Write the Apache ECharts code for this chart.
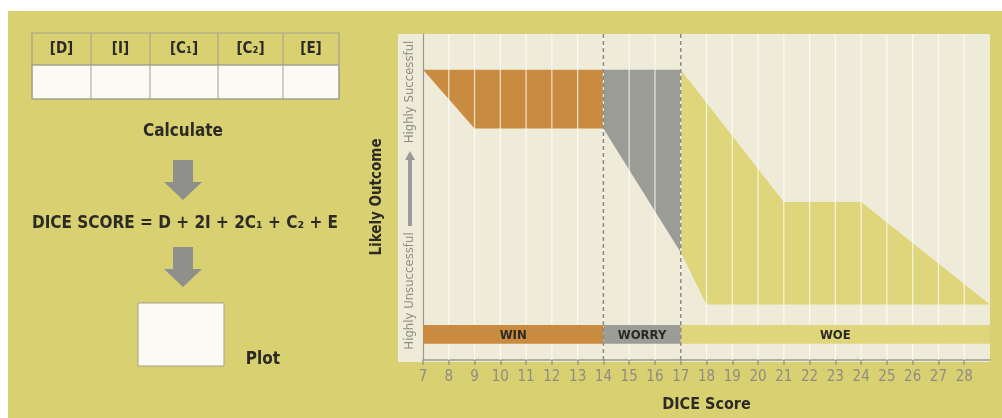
<!DOCTYPE html>
<html><head><meta charset="utf-8">
<script src="https://cdn.jsdelivr.net/npm/echarts@6/dist/echarts.min.js"></script>
<style>html,body{margin:0;padding:0;background:#fff}#c{width:1002px;height:418px}</style>
</head><body><div id="c"></div>
<script>
// ---- data ----
const xMin = 7, xMax = 29;
const xTicks = [7,8,9,10,11,12,13,14,15,16,17,18,19,20,21,22,23,24,25,26,27,28];
const gridXs = [8,9,10,11,12,13,14,15,16,17,18,19,20,21,22,23,24,25,26,27,28];
const tableHeaders = ['[D]','[I]','[C\u2081]','[C\u2082]','[E]'];
const winShape   = [[7,89],[14,89],[14,71],[9,71]];
const worryShape = [[14,89],[17,89],[17,33],[14,71]];
const woeShape   = [[17,89],[21,48.5],[24,48.5],[29,17],[18,17],[17,33]];
const bandNames  = ['WIN','WORRY','WOE'];
const bandStarts = [7,14,17];
const bandEnds   = [14,17,29];
const bandRange  = [5,10.7];
const zoneBoundaries = [14,17];

// ---- style ----
const FONT = '"Liberation Sans Narrow","DejaVu Sans Condensed",sans-serif';
const C_BG = '#d9d071', C_CREAM = '#eeebd9', C_ORANGE = '#c98b40', C_GRAY = '#9c9c97', C_YEL = '#dfd67b';
const C_DARK = '#2b2a24', C_AXIS = '#9a9a90', C_LBL = '#8e8d84';
const shapeColors = [C_ORANGE, C_GRAY, C_YEL];
const shapes = [winShape, worryShape, woeShape];

const chart = echarts.init(document.getElementById('c'), null, {renderer:'canvas'});

function polySeries(pts, color){
  return {type:'custom', z:2, data:[0], silent:true,
    renderItem:(p,api)=>({type:'polygon', shape:{points:pts.map(q=>api.coord(q))}, style:{fill:color}})};
}

const colX = [32,91,150,218,283,339];
const graphics = [
  {type:'rect', z:-10, shape:{x:8,y:11,width:994,height:407}, style:{fill:C_BG}},
  {type:'rect', z:-9, shape:{x:398,y:34,width:592,height:328}, style:{fill:C_CREAM}},
  {type:'rect', z:-5, shape:{x:32,y:65,width:307,height:34}, style:{fill:'#fbfaf5', stroke:'#a3a18d', lineWidth:1}},
  {type:'rect', z:-5, shape:{x:32,y:33,width:307,height:66}, style:{fill:'none', stroke:'#a3a18d', lineWidth:1.2}},
  {type:'rect', z:-5, shape:{x:138,y:303,width:86,height:63}, style:{fill:'#fbfaf5', stroke:'#a3a18d', lineWidth:1}},
  {type:'text', x:183, y:132, style:{text:'Calculate', font:'bold 17px '+FONT, fill:C_DARK, align:'center', verticalAlign:'middle'}},
  {type:'text', x:185, y:224, style:{text:'DICE SCORE = D + 2I + 2C\u2081 + C\u2082 + E', font:'bold 17px '+FONT, fill:C_DARK, align:'center', verticalAlign:'middle'}},
  {type:'text', x:263, y:360, style:{text:'Plot', font:'bold 17px '+FONT, fill:C_DARK, align:'center', verticalAlign:'middle'}},
  {type:'polygon', shape:{points:[[173,160],[193,160],[193,182],[202,182],[183,200],[164,182],[173,182]]}, style:{fill:'#8f8f8c'}},
  {type:'polygon', shape:{points:[[173,247],[193,247],[193,269],[202,269],[183,287],[164,269],[173,269]]}, style:{fill:'#8f8f8c'}},
  {type:'text', x:410, y:291, rotation:Math.PI/2, style:{text:'Highly Unsuccessful', font:'13px '+FONT, fill:C_LBL, align:'center', verticalAlign:'middle'}},
  {type:'text', x:410, y:92, rotation:Math.PI/2, style:{text:'Highly Successful', font:'13px '+FONT, fill:C_LBL, align:'center', verticalAlign:'middle'}},
  {type:'polygon', shape:{points:[[408,226],[412,226],[412,160],[415,160],[410,151],[405,160],[408,160]]}, style:{fill:'#9a9a98'}}
];
for (let i=1;i<colX.length-1;i++) graphics.push({type:'line', z:-4, shape:{x1:colX[i],y1:33,x2:colX[i],y2:99}, style:{stroke:'#a3a18d', lineWidth:1}});
graphics.push({type:'line', z:-4, shape:{x1:32,y1:65,x2:339,y2:65}, style:{stroke:'#a3a18d', lineWidth:1}});
tableHeaders.forEach((h,i)=>graphics.push({type:'text', x:(colX[i]+colX[i+1])/2, y:49, style:{text:h, font:'bold 15px '+FONT, fill:C_DARK, align:'center', verticalAlign:'middle'}}));

const series = shapes.map((s,i)=>polySeries(s, shapeColors[i]));
series.push({type:'custom', z:3, silent:true, data:gridXs,
  renderItem:(p,api)=>{const a=api.coord([api.value(0),0]), b=api.coord([api.value(0),100]);
    return {type:'line', shape:{x1:a[0],y1:a[1],x2:b[0],y2:b[1]}, style:{stroke:'rgba(255,255,255,0.75)', lineWidth:1.2}};}});
series.push({type:'custom', z:4, silent:true, data:bandNames.map((n,i)=>[bandStarts[i],bandEnds[i],i]),
  renderItem:(p,api)=>{const i=api.value(2); const a=api.coord([api.value(0),bandRange[1]]), b=api.coord([api.value(1),bandRange[0]]);
    return {type:'group', children:[
      {type:'rect', shape:{x:a[0],y:a[1],width:b[0]-a[0],height:b[1]-a[1]}, style:{fill:shapeColors[i]}},
      {type:'text', x:(a[0]+b[0])/2, y:(a[1]+b[1])/2+1, style:{text:bandNames[i], font:'bold 13px '+FONT, fill:C_DARK, align:'center', verticalAlign:'middle'}}]};}});
series.push({type:'custom', z:5, silent:true, data:zoneBoundaries,
  renderItem:(p,api)=>{const a=api.coord([api.value(0),0]), b=api.coord([api.value(0),100]);
    return {type:'line', shape:{x1:a[0],y1:a[1],x2:b[0],y2:b[1]}, style:{stroke:'#8a8a86', lineWidth:1.5, lineDash:[4,3]}};}});

chart.setOption({
  animation:false,
  backgroundColor:'transparent',
  graphic: graphics,
  grid:{left:423, right:12, top:34, bottom:56, containLabel:false},
  xAxis:{type:'value', min:xMin, max:xMax, interval:1,
    name:'DICE Score', nameLocation:'middle', nameGap:37,
    nameTextStyle:{fontFamily:FONT, fontWeight:'bold', fontSize:16, color:C_DARK},
    axisLine:{show:true, lineStyle:{color:C_AXIS, width:1.5}},
    axisTick:{show:true, length:5, customValues:xTicks, lineStyle:{color:C_AXIS, width:1.5}},
    axisLabel:{fontFamily:FONT, fontSize:15, color:C_LBL, margin:10, customValues:xTicks, formatter:v=>v>=xMax?'':String(v)},
    splitLine:{show:false}},
  yAxis:{type:'value', min:0, max:100,
    name:'Likely Outcome', nameLocation:'middle', nameGap:38, nameRotate:90,
    nameTextStyle:{fontFamily:FONT, fontWeight:'bold', fontSize:15, color:C_DARK},
    axisLine:{show:true, lineStyle:{color:C_AXIS, width:1.2}},
    axisTick:{show:false}, axisLabel:{show:false}, splitLine:{show:false}},
  series: series
});
</script></body></html>
